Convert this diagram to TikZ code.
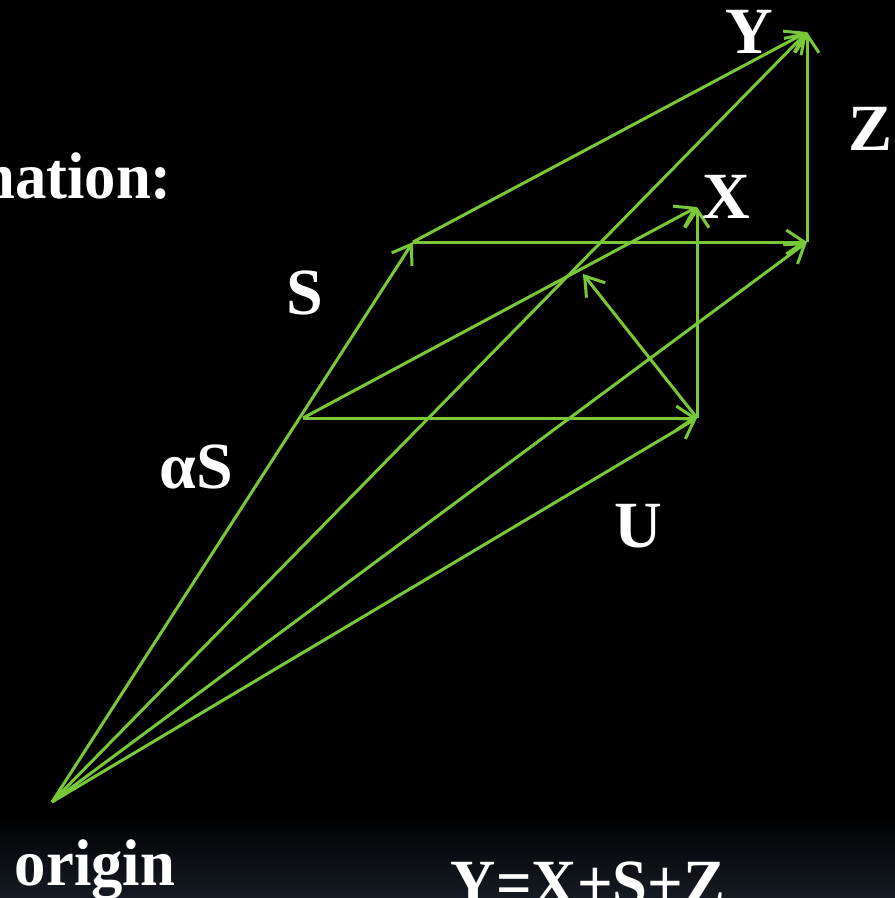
\documentclass[tikz,border=0pt]{standalone}
\usepackage{fontspec}
\setmainfont{Liberation Serif}
\usetikzlibrary{arrows.meta}
\definecolor{vecgreen}{RGB}{120,200,55}
\definecolor{bandblue}{RGB}{22,27,36}
\begin{document}
\begin{tikzpicture}[x=1pt, y=-1pt,
    vec/.style={draw=vecgreen, line width=3pt, -{Straight Barb[length=18pt,width=24pt,line width=3pt]}},
    lbl/.style={text=white, anchor=base, inner sep=0pt, font=\bfseries\fontsize{66}{70}\selectfont}]
    % Background and bottom band
    \useasboundingbox (0,0) rectangle (895,898);
    \clip (0,0) rectangle (895,898);
    \fill[black] (0,0) rectangle (895,898);
    \shade[top color=black, bottom color=bandblue] (0,812) rectangle (895,898);

    % Points
    \coordinate (O) at (52,802);
    \coordinate (aS) at (303,418);
    \coordinate (S) at (413,242);
    \coordinate (U) at (697,418);
    \coordinate (X) at (697,207);
    \coordinate (SU) at (807,242);
    \coordinate (Y) at (807,32);
    \coordinate (P) at (583,274);

    % Vectors from the origin
    \draw[vec] (O) -- (S);
    \draw[vec] (O) -- (Y);
    \draw[vec] (O) -- (SU);
    \draw[vec] (O) -- (U);

    % Lower parallelogram
    \draw[vec] (aS) -- (U);
    \draw[vec] (aS) -- (X);
    \draw[vec] (U) -- (X);
    \draw[vec] (U) -- (P);

    % Upper parallelogram
    \draw[vec] (S) -- (SU);
    \draw[vec] (S) -- (Y);
    \draw[vec] (SU) -- (Y);

    % Labels
    \node[lbl, anchor=base east, xscale=0.95] (title) at (172,198) {nation:};
    \node[lbl] (lY) at (749,53) {Y};
    \node[lbl] (lZ) at (871,150) {Z};
    \node[lbl] (lX) at (726,218) {X};
    \node[lbl] (lS) at (305,314) {S};
    \node[lbl] (laS) at (196,488) {αS};
    \node[lbl] (lU) at (638,547) {U};
    \node[lbl, xscale=0.95] (lO) at (95,885) {origin};
    \node[lbl, xscale=0.95] (eq) at (588,905) {Y=X+S+Z};
\end{tikzpicture}
\end{document}
